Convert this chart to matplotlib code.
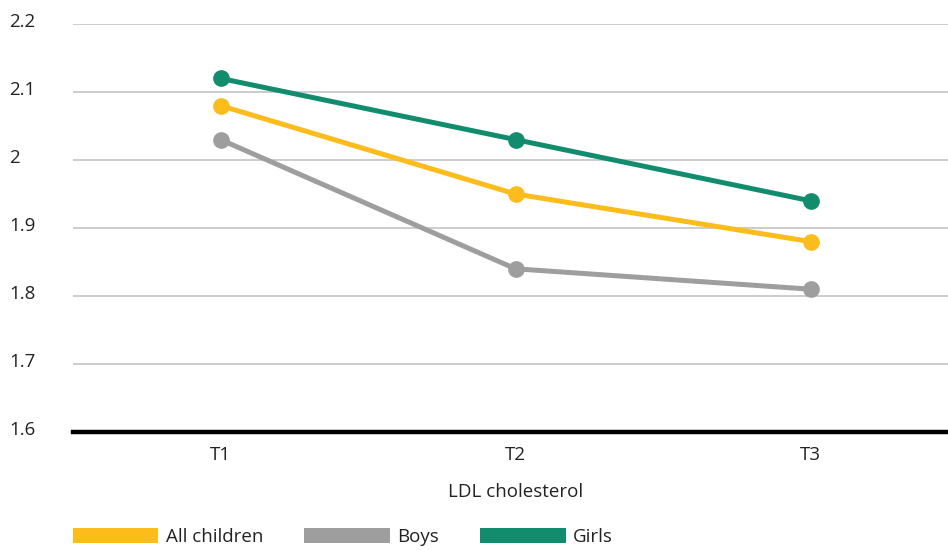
import matplotlib
matplotlib.use("Agg")
from matplotlib import pyplot as plt
from matplotlib.patches import Patch
import matplotlib.transforms as mtransforms

plt.rcParams['font.family'] = ['Open Sans', 'DejaVu Sans']

categories = ["T1", "T2", "T3"]
all_children = [2.08, 1.95, 1.88]
boys = [2.03, 1.84, 1.81]
girls = [2.12, 2.03, 1.94]
series_names = ["All children", "Boys", "Girls"]
series_colors = ["#FBBC1C", "#9E9E9E", "#118C6C"]
y_ticks = [1.6, 1.7, 1.8, 1.9, 2.0, 2.1, 2.2]
y_ticklabels = ["1.6", "1.7", "1.8", "1.9", "2", "2.1", "2.2"]

fs = 13.5
fig = plt.figure(figsize=(9.48, 5.5), dpi=100)
# axes spans 73..958 px horizontally, 24..432 px vertically
ax = fig.add_axes([73/948, 1 - 432/550, 885/948, 408/550])

x = list(range(len(categories)))
for vals, col in zip([all_children, boys, girls], series_colors):
    ax.plot(x, vals, color=col, lw=3.6, marker="o", ms=11, zorder=3,
            solid_capstyle="round")

ax.set_xlim(-0.5, 2.5)
ax.set_ylim(1.6, 2.2)
ax.set_yticks(y_ticks)
ax.set_yticklabels(y_ticklabels, fontsize=fs, color="#222222")
ax.set_xticks(x)
ax.set_xticklabels(categories, fontsize=fs, color="#222222")
ax.grid(axis="y", color="#c4c4c4", lw=1.2)
ax.set_axisbelow(True)
for s in ["top", "right", "left"]:
    ax.spines[s].set_visible(False)
ax.spines["bottom"].set_linewidth(3.2)
ax.spines["bottom"].set_color("black")
ax.tick_params(axis="y", length=0, pad=0)
ax.tick_params(axis="x", length=0, pad=10)
offset = mtransforms.ScaledTranslation(-64/100, 4/100, fig.dpi_scale_trans)
for lab in ax.get_yticklabels():
    lab.set_horizontalalignment("left")
    lab.set_transform(lab.get_transform() + offset)

ax.set_xlabel("LDL cholesterol", fontsize=fs, color="#222222", labelpad=14)

handles = [Patch(facecolor=c, edgecolor="none") for c in series_colors]
fig.legend(handles, series_names, loc="center left",
           bbox_to_anchor=(73/948, 1 - 537/550), ncol=3, frameon=False,
           fontsize=fs, handlelength=4.55, handleheight=0.85, handletextpad=0.4,
           columnspacing=2.2, borderaxespad=0, borderpad=0, labelcolor="#222222")

fig.savefig("out.png", dpi=100)
plt.close()
